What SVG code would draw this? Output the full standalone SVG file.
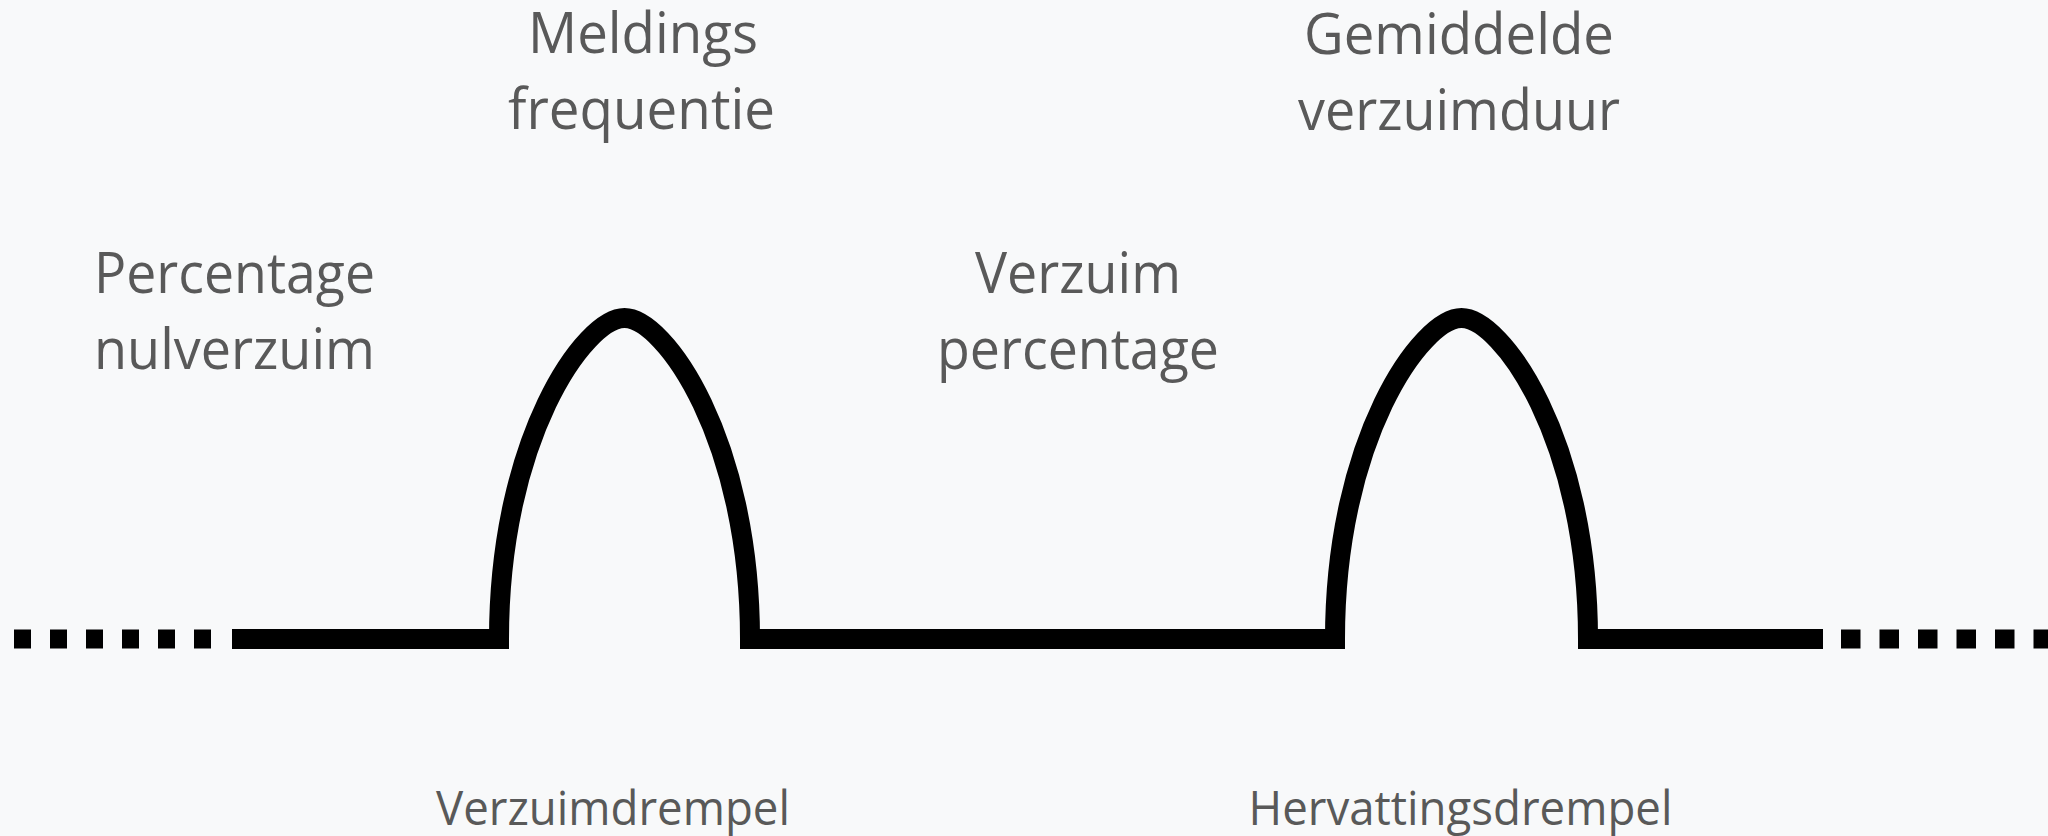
<svg xmlns="http://www.w3.org/2000/svg" width="2048" height="836" viewBox="0 0 2048 836">
<style>
.lbl{font-family:"Open Sans","Liberation Sans",sans-serif;font-size:56px;fill:#595959;text-anchor:middle}
.sm{font-size:48px}
.wave{fill:none;stroke:#000;stroke-width:20;stroke-linejoin:miter;stroke-miterlimit:10}
.dots{fill:none;stroke:#000;stroke-width:19}
</style>
<rect width="2048" height="836" fill="#F8F9FA"/>
<g id="connectors">
<path class="dots" d="M14,639 H214" stroke-dasharray="17 19"/>
<path class="wave" d="M232,639 H499 C499,439 584.5,318 624.5,318 C664.5,318 750,439 750,639 H1335 C1335,439 1421.5,318 1461.5,318 C1501.5,318 1588,439 1588,639 H1823"/>
<path class="dots" d="M1841,639 H2048" stroke-dasharray="19.5 19"/>
</g>
<g id="meldingsfrequentie"><text class="lbl" x="643" y="53" textLength="230" lengthAdjust="spacingAndGlyphs">Meldings</text><text class="lbl" x="641.5" y="129" textLength="267" lengthAdjust="spacingAndGlyphs">frequentie</text></g>
<g id="nulverzuim"><text class="lbl" x="234.5" y="293" textLength="281" lengthAdjust="spacingAndGlyphs">Percentage</text><text class="lbl" x="234.5" y="369" textLength="281" lengthAdjust="spacingAndGlyphs">nulverzuim</text></g>
<g id="verzuimpercentage"><text class="lbl" x="1078" y="293" textLength="206" lengthAdjust="spacingAndGlyphs">Verzuim</text><text class="lbl" x="1078" y="369" textLength="282" lengthAdjust="spacingAndGlyphs">percentage</text></g>
<g id="verzuimduur"><text class="lbl" x="1459" y="54" textLength="310" lengthAdjust="spacingAndGlyphs">Gemiddelde</text><text class="lbl" x="1459" y="130" textLength="322" lengthAdjust="spacingAndGlyphs">verzuimduur</text></g>
<g id="verzuimdrempel"><text class="lbl sm" x="613" y="825" textLength="354" lengthAdjust="spacingAndGlyphs">Verzuimdrempel</text></g>
<g id="hervattingsdrempel"><text class="lbl sm" x="1460.5" y="825" textLength="424" lengthAdjust="spacingAndGlyphs">Hervattingsdrempel</text></g>
</svg>
